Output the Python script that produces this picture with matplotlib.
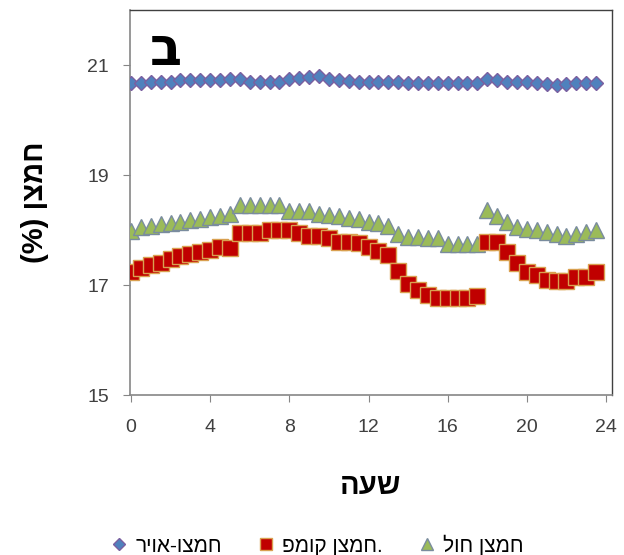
import matplotlib
matplotlib.use("Agg")
import matplotlib.pyplot as plt
from matplotlib.lines import Line2D

plt.rcParams['font.family'] = ['Liberation Sans', 'DejaVu Sans']

hours = [i * 0.5 for i in range(48)]

air = [20.68, 20.68, 20.69, 20.70, 20.70, 20.72, 20.73, 20.72, 20.73, 20.73,
       20.74, 20.75, 20.70, 20.69, 20.69, 20.70, 20.74, 20.76, 20.79, 20.80,
       20.75, 20.72, 20.71, 20.70, 20.70, 20.70, 20.69, 20.69, 20.68, 20.67,
       20.67, 20.67, 20.67, 20.67, 20.67, 20.68, 20.75, 20.72, 20.70, 20.70,
       20.69, 20.68, 20.66, 20.64, 20.66, 20.67, 20.68, 20.68]

compost = [17.24, 17.31, 17.36, 17.40, 17.47, 17.53, 17.56, 17.60, 17.64, 17.70,
           17.68, 17.95, 17.95, 17.95, 18.00, 18.00, 18.00, 17.95, 17.90, 17.90,
           17.85, 17.78, 17.78, 17.76, 17.70, 17.62, 17.55, 17.25, 17.02, 16.91,
           16.82, 16.76, 16.76, 16.76, 16.76, 16.80, 17.78, 17.78, 17.60, 17.40,
           17.24, 17.18, 17.09, 17.07, 17.07, 17.15, 17.15, 17.24]

sand = [17.98, 18.05, 18.08, 18.10, 18.13, 18.15, 18.18, 18.20, 18.23, 18.25,
        18.30, 18.45, 18.45, 18.45, 18.45, 18.45, 18.35, 18.35, 18.35, 18.30,
        18.27, 18.25, 18.22, 18.20, 18.15, 18.12, 18.08, 17.93, 17.88, 17.87,
        17.86, 17.85, 17.75, 17.75, 17.75, 17.75, 18.36, 18.25, 18.15, 18.05,
        18.02, 18.00, 17.96, 17.93, 17.89, 17.93, 17.96, 18.00]

x_ticks = [0, 4, 8, 12, 16, 20, 24]
y_ticks = [15, 17, 19, 21]

# Hebrew labels given in visual (left-to-right) order
label_air = "ריוא-וצמח"
label_compost = "פמוק ןצמח."
label_sand = "לוח ןצמח"
x_title = "העש"
y_title = "(%) ןצמח"
panel = "ב"

fig = plt.figure(figsize=(6.24, 5.55), dpi=100)
ax = fig.add_axes([130/624, 1 - 395/555, (612-130)/624, (395-10)/555])

ax.plot(hours, sand, linestyle='none', marker='^', markersize=12,
        markerfacecolor='#9BBB59', markeredgecolor='#7A8C9E', markeredgewidth=1, zorder=3)
ax.plot(hours, compost, linestyle='none', marker='s', markersize=11.5,
        markerfacecolor='#C00000', markeredgecolor='#D9A050', markeredgewidth=1, zorder=3)
ax.plot(hours, air, linestyle='none', marker='D', markersize=7.5,
        markerfacecolor='#4F81BD', markeredgecolor='#7A5FA0', markeredgewidth=1, zorder=3)

ax.set_xlim(-0.05, 24.3)
ax.set_ylim(15, 22)
ax.set_xticks(x_ticks)
ax.set_yticks(y_ticks)
ax.tick_params(axis='both', labelsize=14, colors='#404040', length=5, color='#868686')
ax.tick_params(axis='x', pad=12)
ax.tick_params(axis='y', pad=10)

for s in ['left', 'bottom']:
    ax.spines[s].set_color('#868686')
    ax.spines[s].set_linewidth(1.2)
for s in ['top', 'right']:
    ax.spines[s].set_color('#404040')
    ax.spines[s].set_linewidth(1.0)

ax.text(0.04, 0.895, panel, transform=ax.transAxes, fontsize=38, fontweight='bold',
        ha='left', va='center', color='black', family=['DejaVu Sans'])

ax.set_xlabel(x_title, fontsize=21, fontweight='bold', labelpad=26)
ax.set_ylabel(y_title, fontsize=21, fontweight='bold', labelpad=28)

handles = [
    Line2D([], [], linestyle='none', marker='D', markersize=6,
           markerfacecolor='#4F81BD', markeredgecolor='#7A5FA0'),
    Line2D([], [], linestyle='none', marker='s', markersize=9,
           markerfacecolor='#C00000', markeredgecolor='#D9A050'),
    Line2D([], [], linestyle='none', marker='^', markersize=9,
           markerfacecolor='#9BBB59', markeredgecolor='#7A8C9E'),
]
fig.legend(handles, [label_air, label_compost, label_sand], loc='center',
           bbox_to_anchor=(316/624, 1 - 545/555), ncol=3, frameon=False,
           fontsize=15, markerfirst=True, handletextpad=0.3, columnspacing=1.6,
           handlelength=1.0)

fig.savefig("out.png", dpi=100)
